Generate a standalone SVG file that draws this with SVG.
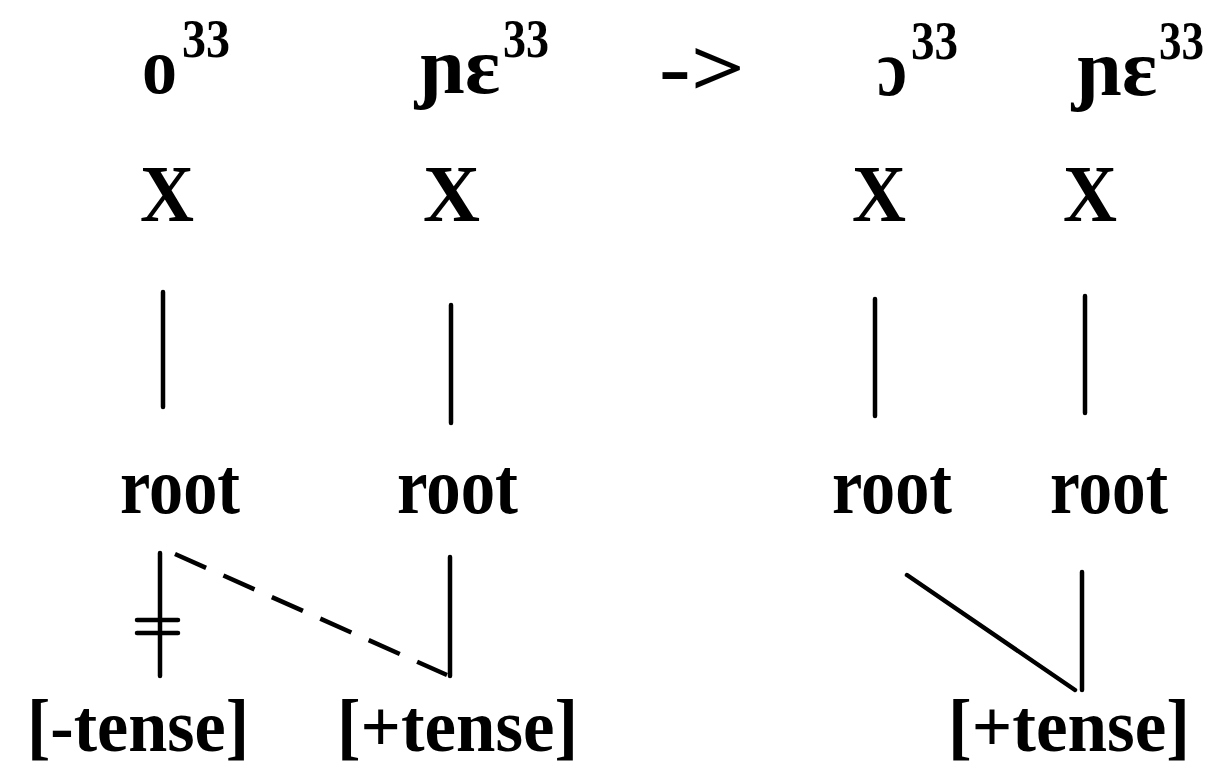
<svg xmlns="http://www.w3.org/2000/svg" width="1214" height="779" viewBox="0 0 1214 779">
<style>
text{font-family:"Liberation Serif","DejaVu Serif",serif;fill:#000;font-weight:bold}
.seg{font-size:80px}
.sup{font-size:54px}
.x{font-size:80px}
.root{font-size:80px}
.feat{font-size:74px}
.ln{stroke:#000;stroke-width:4.5;fill:none;stroke-linecap:round}
.dash{stroke-dasharray:34 19;stroke-linecap:butt}
</style>
<rect width="1214" height="779" fill="#fff"/>
<g id="segments">
<text class="seg" x="142" y="93" textLength="35" lengthAdjust="spacingAndGlyphs">o</text>
<text class="sup" x="182" y="57" textLength="48" lengthAdjust="spacingAndGlyphs">33</text>
<text class="seg" x="419" y="93" textLength="81" lengthAdjust="spacingAndGlyphs">ɲɛ</text>
<text class="sup" x="503" y="57" textLength="46" lengthAdjust="spacingAndGlyphs">33</text>
<text class="seg" x="659" y="95" textLength="86" lengthAdjust="spacingAndGlyphs">-&gt;</text>
<text class="seg" x="877" y="95" textLength="30" lengthAdjust="spacingAndGlyphs">ɔ</text>
<text class="sup" x="911" y="59" textLength="47" lengthAdjust="spacingAndGlyphs">33</text>
<text class="seg" x="1076" y="95" textLength="81" lengthAdjust="spacingAndGlyphs">ɲɛ</text>
<text class="sup" x="1159" y="59" textLength="45" lengthAdjust="spacingAndGlyphs">33</text>
</g>
<g id="x1"><text class="x" x="140" y="221" textLength="54" lengthAdjust="spacingAndGlyphs">X</text></g>
<g id="x2"><text class="x" x="423" y="221" textLength="57" lengthAdjust="spacingAndGlyphs">X</text></g>
<g id="x3"><text class="x" x="852" y="221" textLength="54" lengthAdjust="spacingAndGlyphs">X</text></g>
<g id="x4"><text class="x" x="1063" y="221" textLength="54" lengthAdjust="spacingAndGlyphs">X</text></g>
<g id="root1"><text class="root" x="120" y="513" textLength="120" lengthAdjust="spacingAndGlyphs">root</text></g>
<g id="root2"><text class="root" x="397" y="513" textLength="121" lengthAdjust="spacingAndGlyphs">root</text></g>
<g id="root3"><text class="root" x="832" y="513" textLength="120" lengthAdjust="spacingAndGlyphs">root</text></g>
<g id="root4"><text class="root" x="1050" y="513" textLength="118" lengthAdjust="spacingAndGlyphs">root</text></g>
<g id="minus-tense"><text class="feat" x="27" y="751" textLength="222" lengthAdjust="spacingAndGlyphs">[-tense]</text></g>
<g id="plus-tense-1"><text class="feat" x="337" y="751" textLength="241" lengthAdjust="spacingAndGlyphs">[+tense]</text></g>
<g id="plus-tense-2"><text class="feat" x="948" y="751" textLength="242" lengthAdjust="spacingAndGlyphs">[+tense]</text></g>
<g id="connectors">
<line class="ln" x1="163" y1="292" x2="163" y2="407"/>
<line class="ln" x1="451" y1="305" x2="451" y2="423"/>
<line class="ln" x1="875" y1="299" x2="875" y2="416"/>
<line class="ln" x1="1085" y1="296" x2="1085" y2="413"/>
<line class="ln" x1="160" y1="553" x2="160" y2="676"/>
<line class="ln" x1="137" y1="620" x2="178" y2="620"/>
<line class="ln" x1="137" y1="633" x2="178" y2="633"/>
<line class="ln dash" x1="175" y1="554" x2="447" y2="675"/>
<line class="ln" x1="450" y1="557" x2="450" y2="676"/>
<line class="ln" x1="907" y1="575" x2="1075" y2="690"/>
<line class="ln" x1="1082" y1="572" x2="1082" y2="690"/>
</g>
</svg>
